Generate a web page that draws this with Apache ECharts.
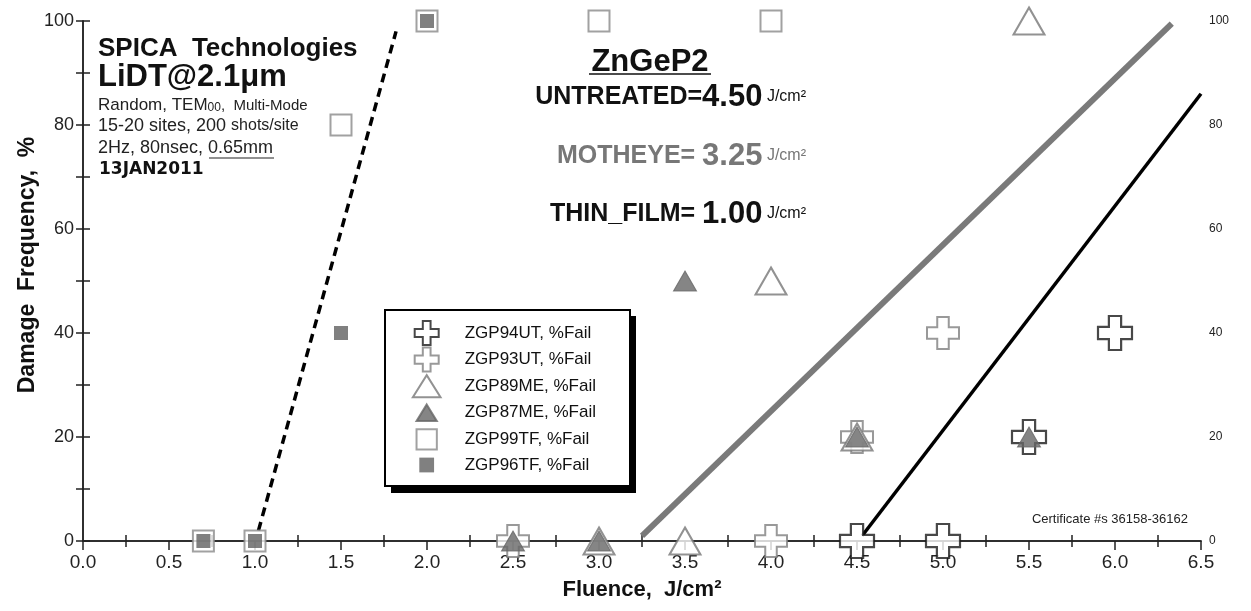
<!DOCTYPE html>
<html><head><meta charset="utf-8">
<script src="https://cdn.jsdelivr.net/npm/echarts@6/dist/echarts.min.js"></script>
<style>html,body{margin:0;padding:0;background:#fff}#c{width:1251px;height:611px}</style>
</head><body><div id="c"></div>
<script>
// ---- data ----
const xTicks = [0,0.5,1,1.5,2,2.5,3,3.5,4,4.5,5,5.5,6,6.5];
const yTicks = [0,20,40,60,80,100];
const seriesNames = ['ZGP94UT, %Fail','ZGP93UT, %Fail','ZGP89ME, %Fail','ZGP87ME, %Fail','ZGP99TF, %Fail','ZGP96TF, %Fail'];
const zgp94ut = [[4.5,0],[5.0,0],[5.5,20],[6.0,40]];
const zgp93ut = [[2.5,0],[4.0,0],[4.5,20],[5.0,40]];
const zgp89me = [[3.0,0],[3.5,0],[4.0,50],[4.5,20],[5.5,100]];
const zgp87me = [[2.5,0],[3.0,0],[3.5,50],[4.5,20],[5.5,20]];
const zgp99tf = [[0.7,0],[1.0,0],[1.5,80],[2.0,100],[3.0,100],[4.0,100]];
const zgp96tf = [[0.7,0],[1.0,0],[1.5,40],[2.0,100]];
const thinFilmFit = [[1.02,2],[1.82,98]];
const motheyeFit = [[3.25,1],[6.33,99.5]];
const untreatedFit = [[4.53,1],[6.5,86]];

// ---- styling helpers ----
const FONT = '"Liberation Sans", Arial, sans-serif';
const CROSS = 'path://M32,0H68V32H100V68H68V100H32V68H0V32H32Z';
// legend icons drawn inside a 34x26 frame (corner moveTo's fix the frame)
const FRAME = 'M0,0M34,26';
const LG_CROSS = 'path://' + FRAME + 'M12.8,0H21.2V8.6H30V17.4H21.2V26H12.8V17.4H4V8.6H12.8Z';
const LG_TRI = 'path://' + FRAME + 'M17,1L32,25L2,25Z';
const LG_TRI_S = 'path://' + FRAME + 'M17,4L28,22L6,22Z';
const LG_SQ = 'path://' + FRAME + 'M6,2H28V24H6Z';
const LG_SQ_S = 'path://' + FRAME + 'M9,5H25V21H9Z';
const minorX = []; for (let v = 0.25; v < 6.5; v += 0.5) minorX.push(v);
const minorY = [10,30,50,70,90];
const axisCol = '#222';

const chart = echarts.init(document.getElementById('c'), null, {renderer:'canvas'});
const baseX = {type:'value', min:0, max:6.5, splitLine:{show:false}};
const baseY = {type:'value', min:0, max:100, splitLine:{show:false}};
const tickLS = {color:axisCol, width:1.5};
const opt = {
  animation:false,
  backgroundColor:'#fff',
  grid:{left:83, right:50, top:21, bottom:70, containLabel:false},
  xAxis:[
    Object.assign({}, baseX, {position:'bottom', interval:0.5,
      axisLine:{lineStyle:{color:axisCol, width:1.5}},
      axisTick:{customValues:xTicks, length:7, lineStyle:tickLS},
      axisLabel:{customValues:xTicks, formatter:v=>v.toFixed(1), fontFamily:FONT, fontSize:19, color:'#222', margin:12},
      name:'Fluence,  J/cm²', nameLocation:'middle', nameGap:38,
      nameTextStyle:{fontFamily:FONT, fontSize:22, fontWeight:'bold', color:'#111'}}),
    Object.assign({}, baseX, {position:'bottom', axisLine:{show:false},
      axisTick:{customValues:minorX, inside:true, length:6, lineStyle:tickLS},
      axisLabel:{show:false}}),
    Object.assign({}, baseX, {position:'top', interval:0.5,
      axisLine:{lineStyle:{color:axisCol, width:1.5}},
      axisTick:{customValues:xTicks, inside:true, length:9, lineStyle:tickLS},
      axisLabel:{show:false}}),
    Object.assign({}, baseX, {position:'top', axisLine:{show:false},
      axisTick:{customValues:minorX, inside:true, length:6, lineStyle:tickLS},
      axisLabel:{show:false}})
  ],
  yAxis:[
    Object.assign({}, baseY, {position:'left', interval:20,
      axisLine:{lineStyle:{color:axisCol, width:1.5}},
      axisTick:{customValues:yTicks, length:7, lineStyle:tickLS},
      axisLabel:{customValues:yTicks, fontFamily:FONT, fontSize:18, color:'#222', margin:9}}),
    Object.assign({}, baseY, {position:'left', axisLine:{show:false},
      axisTick:{customValues:minorY, inside:true, length:7, lineStyle:tickLS},
      axisLabel:{show:false}}),
    Object.assign({}, baseY, {position:'right', interval:20,
      axisLine:{lineStyle:{color:axisCol, width:1.5}},
      axisTick:{customValues:yTicks, length:7, lineStyle:tickLS},
      axisLabel:{customValues:yTicks, fontFamily:FONT, fontSize:12, color:'#222', margin:8}}),
    Object.assign({}, baseY, {position:'right', axisLine:{show:false},
      axisTick:{customValues:minorY, inside:true, length:7, lineStyle:tickLS},
      axisLabel:{show:false}})
  ],
  legend:{
    orient:'vertical', left:385, top:310, z:6,
    padding:[10,34,9,25], itemGap:0.6, itemWidth:34, itemHeight:24,
    backgroundColor:'#fff', borderColor:'#000', borderWidth:2,
    textStyle:{fontFamily:FONT, fontSize:17, color:'#111', padding:[0,0,0,16]},
    selectedMode:false,
    data:[
      {name:seriesNames[0], icon:LG_CROSS},
      {name:seriesNames[1], icon:LG_CROSS},
      {name:seriesNames[2], icon:LG_TRI},
      {name:seriesNames[3], icon:LG_TRI_S},
      {name:seriesNames[4], icon:LG_SQ},
      {name:seriesNames[5], icon:LG_SQ_S}
    ]
  },
  series:[
    {type:'line', data:thinFilmFit, symbol:'none', clip:false, z:1, silent:true,
      lineStyle:{color:'#000', width:3.5, type:[9,6]}},
    {type:'line', data:motheyeFit, symbol:'none', clip:false, z:1, silent:true,
      lineStyle:{color:'#7a7a7a', width:6, cap:'butt'}},
    {type:'line', data:untreatedFit, symbol:'none', clip:false, z:1, silent:true,
      lineStyle:{color:'#000', width:3.5}},
    {name:seriesNames[0], type:'scatter', data:zgp94ut, symbol:CROSS, symbolSize:34, clip:false, z:2,
      itemStyle:{color:'#fff', borderColor:'#1a1a1a', borderWidth:2.2}},
    {name:seriesNames[1], type:'scatter', data:zgp93ut, symbol:CROSS, symbolSize:32, clip:false, z:2,
      itemStyle:{color:'#fff', borderColor:'#808080', borderWidth:2}},
    {name:seriesNames[2], type:'scatter', data:zgp89me, symbol:'triangle', symbolSize:[31,27], clip:false, z:2,
      itemStyle:{color:'#fff', borderColor:'#777', borderWidth:2}},
    {name:seriesNames[3], type:'scatter', data:zgp87me, symbol:'triangle', symbolSize:[23,20], clip:false, z:2,
      itemStyle:{color:'#666', borderColor:'#666', borderWidth:1}},
    {name:seriesNames[4], type:'scatter', data:zgp99tf, symbol:'rect', symbolSize:21, clip:false, z:2,
      itemStyle:{color:'#fff', borderColor:'#8a8a8a', borderWidth:2}},
    {name:seriesNames[5], type:'scatter', data:zgp96tf, symbol:'rect', symbolSize:14, clip:false, z:2,
      itemStyle:{color:'#606060', borderColor:'#606060', borderWidth:0}}
  ],
  graphic:[
    {type:'rect', z:5, shape:{x:391, y:316, width:245, height:177}, style:{fill:'#000'}},
    {type:'text', x:28, y:265, rotation:Math.PI/2, style:{text:'Damage  Frequency,  %', font:'bold 23px '+FONT, fill:'#111', textAlign:'center', textVerticalAlign:'middle'}},
    {type:'text', x:98, y:36, style:{text:'SPICA  Technologies', font:'bold 26px '+FONT, fill:'#111'}},
    {type:'text', x:98, y:62, style:{text:'LiDT@2.1μm', font:'bold 31px '+FONT, fill:'#111'}},
    {type:'text', x:98, y:97, style:{text:'{a|Random, TEM}{s|00}{b|,  Multi-Mode}', fill:'#222',
      rich:{a:{font:'17px '+FONT, fill:'#222'}, s:{font:'12px '+FONT, fill:'#222', padding:[4,0,0,0]}, b:{font:'15px '+FONT, fill:'#222'}}}},
    {type:'text', x:98, y:117, style:{text:'{a|15-20 sites, 200 }{b|shots/site}', fill:'#222',
      rich:{a:{font:'18px '+FONT, fill:'#222'}, b:{font:'16px '+FONT, fill:'#222'}}}},
    {type:'text', x:98, y:139, style:{text:'2Hz, 80nsec, 0.65mm', font:'18px '+FONT, fill:'#222'}},
    {type:'line', shape:{x1:209, y1:158, x2:274, y2:158}, style:{stroke:'#222', lineWidth:1.2}},
    {type:'text', x:99, y:161, style:{text:'13JAN2011', font:'bold 17px "DejaVu Sans"', fill:'#111'}},
    {type:'text', x:650, y:47, style:{text:'ZnGeP2', font:'bold 31px '+FONT, fill:'#111', textAlign:'center'}},
    {type:'line', shape:{x1:589, y1:74, x2:711, y2:74}, style:{stroke:'#111', lineWidth:1.6}},
    {type:'text', x:806, y:97, style:{text:'{a|UNTREATED=}{b|4.50}{c| J/cm²}', textAlign:'right', textVerticalAlign:'middle',
      rich:{a:{font:'bold 25px '+FONT, fill:'#111'}, b:{font:'bold 31px '+FONT, fill:'#111'}, c:{font:'16px '+FONT, fill:'#111'}}}},
    {type:'text', x:806, y:156, style:{text:'{a|MOTHEYE= }{b|3.25}{c| J/cm²}', textAlign:'right', textVerticalAlign:'middle',
      rich:{a:{font:'bold 25px '+FONT, fill:'#777'}, b:{font:'bold 31px '+FONT, fill:'#777'}, c:{font:'16px '+FONT, fill:'#777'}}}},
    {type:'text', x:806, y:214, style:{text:'{a|THIN_FILM= }{b|1.00}{c| J/cm²}', textAlign:'right', textVerticalAlign:'middle',
      rich:{a:{font:'bold 25px '+FONT, fill:'#111'}, b:{font:'bold 31px '+FONT, fill:'#111'}, c:{font:'16px '+FONT, fill:'#111'}}}},
    {type:'text', x:1188, y:519, style:{text:'Certificate #s 36158-36162', font:'13px '+FONT, fill:'#222', textAlign:'right', textVerticalAlign:'middle'}}
  ]
};
chart.setOption(opt);
</script></body></html>
